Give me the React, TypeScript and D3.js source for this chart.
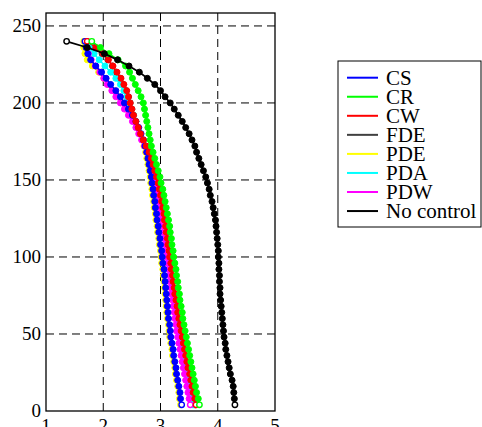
import { scaleLinear, line } from 'd3';

const width = 482;
const height = 427;
const margin = { top: 13, right: 207, bottom: 16, left: 46 };
const innerWidth = width - margin.left - margin.right;
const innerHeight = height - margin.top - margin.bottom;

// depth (y) shared by every run, top to bottom
const depth = [240, 236, 232, 228, 224, 220, 216, 212, 208, 204, 200, 196, 192, 188, 184, 180, 176, 172, 168, 164,
  160, 156, 152, 148, 144, 140, 136, 132, 128, 124, 120, 116, 112, 108, 104, 100, 96, 92, 88, 84,
  80, 76, 72, 68, 64, 60, 56, 52, 48, 44, 40, 36, 32, 28, 24, 20, 16, 12, 8, 4];

const csX = [1.68, 1.70, 1.73, 1.78, 1.87, 1.97, 2.05, 2.13, 2.22, 2.30, 2.37, 2.44, 2.51, 2.57, 2.62, 2.66, 2.70, 2.73, 2.76, 2.78,
  2.80, 2.82, 2.84, 2.85, 2.87, 2.88, 2.90, 2.91, 2.93, 2.94, 2.96, 2.97, 2.99, 3.00, 3.02, 3.03, 3.04, 3.06, 3.07, 3.08,
  3.09, 3.10, 3.11, 3.12, 3.13, 3.14, 3.16, 3.17, 3.18, 3.20, 3.22, 3.23, 3.25, 3.27, 3.28, 3.30, 3.32, 3.34, 3.35, 3.37];
const crX = [1.80, 1.95, 2.10, 2.26, 2.39, 2.46, 2.51, 2.56, 2.61, 2.66, 2.70, 2.72, 2.74, 2.76, 2.78, 2.80, 2.82, 2.84, 2.87, 2.90,
  2.93, 2.96, 2.99, 3.01, 3.04, 3.06, 3.08, 3.10, 3.12, 3.14, 3.16, 3.17, 3.19, 3.20, 3.22, 3.23, 3.25, 3.27, 3.28, 3.30,
  3.31, 3.33, 3.34, 3.36, 3.38, 3.39, 3.41, 3.43, 3.45, 3.47, 3.49, 3.51, 3.53, 3.55, 3.57, 3.59, 3.61, 3.63, 3.66, 3.68];
const cwX = [1.72, 1.87, 2.00, 2.09, 2.17, 2.24, 2.31, 2.36, 2.41, 2.44, 2.47, 2.50, 2.53, 2.57, 2.61, 2.65, 2.70, 2.75, 2.80, 2.84,
  2.87, 2.90, 2.93, 2.96, 2.98, 3.00, 3.02, 3.04, 3.06, 3.07, 3.09, 3.10, 3.12, 3.13, 3.15, 3.16, 3.18, 3.19, 3.21, 3.22,
  3.24, 3.25, 3.27, 3.29, 3.30, 3.32, 3.34, 3.36, 3.38, 3.40, 3.42, 3.44, 3.46, 3.48, 3.51, 3.53, 3.55, 3.57, 3.60, 3.62];
const fdeX = [1.71, 1.85, 1.98, 2.08, 2.16, 2.23, 2.30, 2.35, 2.40, 2.44, 2.47, 2.50, 2.53, 2.57, 2.61, 2.65, 2.70, 2.75, 2.79, 2.83,
  2.86, 2.89, 2.92, 2.95, 2.97, 2.99, 3.01, 3.03, 3.05, 3.07, 3.08, 3.10, 3.11, 3.13, 3.14, 3.16, 3.17, 3.19, 3.20, 3.22,
  3.23, 3.25, 3.27, 3.28, 3.30, 3.32, 3.34, 3.36, 3.38, 3.40, 3.42, 3.44, 3.46, 3.48, 3.50, 3.52, 3.55, 3.57, 3.59, 3.61];
const pdeX = [1.66, 1.66, 1.68, 1.72, 1.81, 1.92, 2.01, 2.10, 2.19, 2.27, 2.34, 2.41, 2.48, 2.54, 2.59, 2.64, 2.68, 2.71, 2.74, 2.76,
  2.78, 2.80, 2.82, 2.83, 2.85, 2.86, 2.88, 2.89, 2.91, 2.92, 2.94, 2.95, 2.97, 2.98, 3.00, 3.01, 3.02, 3.04, 3.05, 3.06,
  3.07, 3.08, 3.09, 3.10, 3.11, 3.12, 3.14, 3.15, 3.16, 3.18, 3.20, 3.21, 3.23, 3.25, 3.26, 3.28, 3.30, 3.32, 3.33, 3.35];
const pdaX = [1.70, 1.76, 1.84, 1.93, 2.03, 2.13, 2.22, 2.30, 2.36, 2.41, 2.45, 2.49, 2.53, 2.57, 2.61, 2.65, 2.69, 2.73, 2.77, 2.81,
  2.84, 2.87, 2.90, 2.93, 2.95, 2.97, 2.99, 3.01, 3.03, 3.05, 3.06, 3.08, 3.09, 3.11, 3.12, 3.14, 3.15, 3.17, 3.18, 3.19,
  3.21, 3.22, 3.24, 3.26, 3.27, 3.29, 3.31, 3.32, 3.34, 3.36, 3.38, 3.40, 3.42, 3.44, 3.46, 3.48, 3.51, 3.53, 3.55, 3.57];
const pdwX = [1.70, 1.71, 1.74, 1.79, 1.86, 1.94, 2.01, 2.07, 2.15, 2.22, 2.30, 2.37, 2.44, 2.51, 2.57, 2.62, 2.67, 2.72, 2.76, 2.79,
  2.82, 2.85, 2.87, 2.90, 2.92, 2.94, 2.96, 2.98, 3.00, 3.02, 3.03, 3.05, 3.06, 3.08, 3.09, 3.11, 3.12, 3.14, 3.15, 3.16,
  3.18, 3.19, 3.21, 3.22, 3.24, 3.25, 3.27, 3.28, 3.30, 3.32, 3.34, 3.36, 3.38, 3.40, 3.42, 3.44, 3.46, 3.48, 3.50, 3.52];
const noControlX = [1.36, 1.72, 2.02, 2.25, 2.45, 2.63, 2.77, 2.90, 3.00, 3.08, 3.17, 3.24, 3.31, 3.38, 3.44, 3.50, 3.55, 3.60, 3.63, 3.67,
  3.71, 3.75, 3.79, 3.82, 3.85, 3.87, 3.90, 3.92, 3.94, 3.96, 3.97, 3.98, 3.99, 4.00, 4.01, 4.01, 4.02, 4.02, 4.03, 4.03,
  4.04, 4.04, 4.05, 4.06, 4.07, 4.08, 4.09, 4.10, 4.11, 4.13, 4.14, 4.16, 4.18, 4.20, 4.22, 4.25, 4.27, 4.28, 4.29, 4.30];

const seriesNames = ['CS', 'CR', 'CW', 'FDE', 'PDE', 'PDA', 'PDW', 'No control'];
const seriesValues = [csX, crX, cwX, fdeX, pdeX, pdaX, pdwX, noControlX];
const seriesColors = ['#0000ff', '#00ff00', '#ff0000', '#404040', '#ffff00', '#00ffff', '#ff00ff', '#000000'];
// paint order, back to front
const drawOrder = [3, 4, 5, 6, 0, 2, 1, 7];

const xTicks = [1, 2, 3, 4, 5];
const yTicks = [0, 50, 100, 150, 200, 250];

const font = 'Liberation Serif, Tinos, Times New Roman, Times, DejaVu Serif, serif';

export default function App() {
  const xScale = scaleLinear().domain([1, 5]).range([0, innerWidth]);
  const yScale = scaleLinear().domain([0, 258.4]).range([innerHeight, 0]);
  const path = line<number>()
    .x((d) => xScale(d))
    .y((_, i) => yScale(depth[i]));

  const grid = (
    <g>
      {xTicks.slice(1, -1).map((t) => (
        <line key={'gx' + t} x1={xScale(t)} x2={xScale(t)} y1={0} y2={innerHeight}
          stroke="#000" strokeWidth={1} strokeDasharray="8,5" />
      ))}
      {yTicks.slice(1).map((t) => (
        <line key={'gy' + t} x1={0} x2={innerWidth} y1={yScale(t)} y2={yScale(t)}
          stroke="#000" strokeWidth={1} strokeDasharray="8,5" />
      ))}
    </g>
  );

  const curves = drawOrder.map((s) => {
    const vals = seriesValues[s];
    const color = seriesColors[s];
    const last = vals.length - 1;
    return (
      <g key={seriesNames[s]}>
        <path d={path(vals) || ''} fill="none" stroke={color} strokeWidth={s === 7 ? 1.8 : 1.5} />
        {vals.map((v, i) => {
          const open = i === 0 || i === last;
          return (
            <circle key={i} cx={xScale(v)} cy={yScale(depth[i])} r={open ? 2.7 : 3}
              fill={open ? '#fff' : color} stroke={color} strokeWidth={open ? 1.4 : 1} />
          );
        })}
      </g>
    );
  });

  const legendX = 338;
  const legendY = 61;
  const rowH = 19.05;

  return (
    <svg width={width} height={height}
      style={{ position: 'absolute', left: 0, top: 0, background: '#fff', fontFamily: font }}>
      <g transform={`translate(${margin.left},${margin.top})`}>
        {grid}
        {curves}
        <rect x={0} y={0} width={innerWidth} height={innerHeight} fill="none" stroke="#000" strokeWidth={1.3} />
        {yTicks.map((t) => (
          <text key={'ty' + t} x={-5} y={yScale(t)} dy="0.34em" textAnchor="end"
            style={{ fontFamily: font }} fontSize={19} fill="#000">{t}</text>
        ))}
        {xTicks.map((t) => (
          <text key={'tx' + t} x={xScale(t)} y={innerHeight + 21} textAnchor="middle"
            style={{ fontFamily: font }} fontSize={19} fill="#000">{t}</text>
        ))}
      </g>
      <g transform={`translate(${legendX},${legendY})`}>
        <rect x={0} y={0} width={143} height={166} fill="#fff" stroke="#000" strokeWidth={1} />
        {seriesNames.map((name, i) => {
          const cy = 16.7 + i * rowH;
          return (
            <g key={name}>
              <line x1={9} x2={40} y1={cy} y2={cy} stroke={seriesColors[i]} strokeWidth={2} />
              <text x={48} y={cy + 7} style={{ fontFamily: font }} fontSize={21} fill="#000">{name}</text>
            </g>
          );
        })}
      </g>
    </svg>
  );
}
